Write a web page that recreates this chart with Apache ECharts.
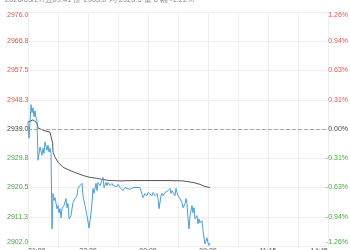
<!DOCTYPE html>
<html>
<head>
<meta charset="utf-8">
<script src="https://cdn.jsdelivr.net/npm/echarts@6/dist/echarts.min.js"></script>
<style>html,body{margin:0;padding:0;background:#fff}#c{width:350px;height:250px}</style>
</head>
<body>
<div id="c"></div>
<script>
const headerText = '2026/03/27/五09:41 价 2903.0 均 2920.5 量 0 幅 -1.22%';
const baseValue = 2939.0;
const yHalfRange = 37;
const yStep = 9.25;
const xMax = 450;
const xStep = 45;
const xTickLabels = ['21:00','','22:30','','00:00','','09:30','','11:15','','14:45'];

const priceMinutes = [0,1.5,4.5,6,7.5,9,10.5,12,13.5,15,18,21,22.5,24,25.5,28.5,30,31.5,33,34.5,
  36,37.5,39,40.5,43.5,45,46.5,48,49.5,51,54,57,58.5,60,61.5,64.5,66,67.5,70.5,73.5,75,78,81,82.5,85.5,88.5,91.5,
  94.5,96,97.5,99,102,103.5,105,108,111,112.5,114,117,118.5,120,123,126,127.5,130.5,133.5,135,138,141,142.5,145.5,148.5,
  153,156,157.5,160.5,163.5,168,171,172.5,175.5,178.5,180,183,186,187.5,190.5,193.5,195,196.5,199.5,201,202.5,205.5,
  208.5,210,213,214.5,216,217.5,220.5,222,223.5,225,228,231,232.5,235.5,237,238.5,240,241.5,243,246,247.5,249,250.5,
  253.5,255,256.5,258,261,262.5,264,265.5,268.5,270,271.5,273];
const priceValues = [2941.2,2936.1,2946.7,2944.1,2945.7,2942.8,2944.7,2942.5,2941.6,2929.1,2933.3,2930.7,2932.9,2931.3,2934.9,2932.3,2933.9,2931.7,2932.9,2931.3,
  2907.4,2918.6,2916.4,2917.3,2913.8,2914.8,2912.5,2913.8,2910.9,2913.8,2914.8,2917.0,2914.1,2915.4,2910.6,2911.6,2913.8,2915.7,2917.0,2917.9,2920.2,2921.1,2921.8,2917.9,2914.8,2911.6,2907.7,
  2912.5,2915.7,2920.2,2918.6,2921.8,2919.5,2922.1,2921.1,2922.7,2923.7,2920.5,2922.1,2921.1,2922.1,2921.1,2921.8,2921.1,2921.5,2920.8,2921.5,2920.5,2920.2,2919.5,2920.5,2920.2,
  2919.9,2920.2,2920.5,2920.2,2920.5,2920.5,2920.2,2917.3,2918.6,2917.9,2918.9,2918.6,2917.9,2918.9,2917.9,2918.6,2917.0,2913.8,2917.9,2918.6,2917.9,2918.9,
  2918.6,2919.5,2920.2,2918.6,2919.5,2918.9,2917.9,2920.2,2918.9,2917.9,2917.0,2915.7,2914.1,2915.4,2917.0,2915.4,2910.6,2907.4,2911.6,2914.8,2912.5,2914.1,2910.6,
  2911.6,2909.0,2910.6,2909.3,2910.0,2906.8,2904.6,2902.7,2904.6,2903.0,2902.2,2903.0];

const avgMinutes = [0,3,7.5,10.5,13.5,15,18,25.5,33,36,37,37.5,40.5,45,52.5,63,73.5,82.5,93,103.5,112.5,123,138,160.5,183,208.5,232.5,247.5,258,265.5,273];
const avgValues = [2941.2,2941.6,2941.9,2941.9,2940.9,2939.3,2938.7,2938.4,2938.0,2937.7,2934.5,2931.7,2930.1,2928.5,2926.9,2925.9,2925.0,2924.3,2923.7,2923.4,2923.0,2922.7,2922.6,2922.7,2922.7,2922.7,2922.6,2922.1,2921.5,2920.8,2920.5];

const RED = '#e2574c', GREEN = '#45a83e', ZERO = '#444';
const colorFor = v => v > 1e-9 ? RED : (v < -1e-9 ? GREEN : ZERO);
const fontFamily = 'Liberation Sans, Arial, sans-serif';

const chart = echarts.init(document.getElementById('c'), null, {renderer: 'canvas'});
const yCommon = {
  type: 'value', min: -yHalfRange, max: yHalfRange, interval: yStep,
  axisLine: {show: false}, axisTick: {show: false}
};
chart.setOption({
  animation: false,
  title: {
    text: headerText, left: 5, top: -4, padding: 0,
    textStyle: {fontSize: 7.5, fontWeight: 'normal', color: '#888', fontFamily}
  },
  grid: {left: 28, right: 22, top: 12, bottom: 4, containLabel: false, outerBoundsMode: 'none'},
  xAxis: {
    type: 'value', min: 0, max: xMax, interval: xStep,
    axisLine: {show: false}, axisTick: {show: false},
    splitLine: {show: true, lineStyle: {color: '#eeeeee', width: 1}},
    axisLabel: {
      margin: 2, fontSize: 7, color: '#555', fontFamily,
      alignMinLabel: 'left', alignMaxLabel: 'right',
      formatter: v => xTickLabels[Math.round(v / xStep)] || ''
    }
  },
  yAxis: [
    Object.assign({}, yCommon, {
      position: 'left',
      splitLine: {show: true, lineStyle: {color: '#eeeeee', width: 1}},
      axisLabel: {
        align: 'left', margin: 21, fontSize: 7, fontFamily,
        verticalAlignMinLabel: 'bottom', verticalAlignMaxLabel: 'top',
        formatter: v => (baseValue + v).toFixed(1),
        color: v => colorFor(parseFloat(v))
      }
    }),
    Object.assign({}, yCommon, {
      position: 'right',
      splitLine: {show: false},
      axisLabel: {
        align: 'right', margin: 20, fontSize: 7, fontFamily,
        verticalAlignMinLabel: 'bottom', verticalAlignMaxLabel: 'top',
        formatter: v => (v / baseValue * 100).toFixed(2) + '%',
        color: v => colorFor(parseFloat(v))
      }
    })
  ],
  series: [
    {
      type: 'line', yAxisIndex: 0, showSymbol: false, symbol: 'none',
      data: priceMinutes.map((m, i) => [m, priceValues[i] - baseValue]),
      lineStyle: {color: '#4a9fd6', width: 1},
      markLine: {
        silent: true, symbol: 'none', label: {show: false},
        lineStyle: {color: '#aaa', type: 'dashed', width: 1},
        data: [{yAxis: 0}]
      },
      z: 3
    },
    {
      type: 'line', yAxisIndex: 0, showSymbol: false, symbol: 'none',
      data: avgMinutes.map((m, i) => [m, avgValues[i] - baseValue]),
      lineStyle: {color: '#555', width: 1},
      z: 2
    }
  ]
});
</script>
</body>
</html>
